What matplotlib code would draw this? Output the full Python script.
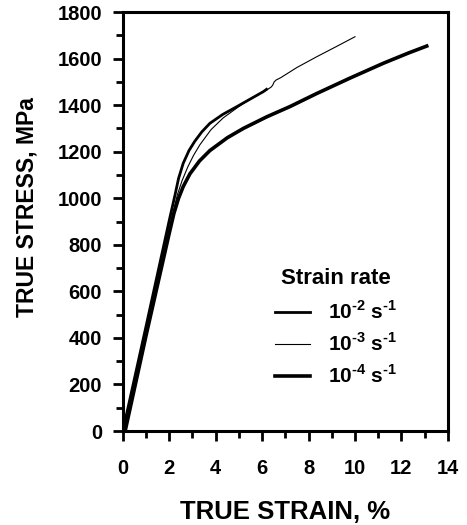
import matplotlib
matplotlib.use("Agg")
import matplotlib.pyplot as plt
from matplotlib.ticker import MultipleLocator

plt.rcParams['font.family'] = ['Liberation Sans', 'DejaVu Sans']
plt.rcParams['font.weight'] = 'bold'
plt.rcParams['mathtext.fontset'] = 'custom'
plt.rcParams['mathtext.rm'] = 'Liberation Sans:bold'
plt.rcParams['mathtext.bf'] = 'Liberation Sans:bold'

# strain rate 10^-2 s^-1
strain_2 = [0, 1.0, 2.0, 2.25, 2.4, 2.6, 2.85, 3.1, 3.4, 3.75, 4.3, 4.9, 5.5, 6.05, 6.19]
stress_2 = [0, 450, 905, 1015, 1085, 1150, 1205, 1245, 1285, 1322, 1360, 1393, 1427, 1458, 1468]

# strain rate 10^-3 s^-1
strain_3 = [0.05, 1.0, 2.0, 2.2, 2.35, 2.55, 2.8, 3.05, 3.32, 3.8, 4.32, 5.19, 5.9, 6.19,
            6.38, 6.45, 6.52, 6.6, 6.8, 7.5, 8.35, 9.2, 10.0]
stress_3 = [0, 430, 870, 955, 1015, 1075, 1135, 1185, 1230, 1295, 1345, 1408, 1450, 1465,
            1477, 1485, 1500, 1508, 1518, 1562, 1608, 1652, 1694]

# strain rate 10^-4 s^-1
strain_4 = [0.1, 1.0, 2.0, 2.2, 2.4, 2.6, 2.89, 3.3, 3.75, 4.5, 5.19, 6.2, 7.2, 8.35, 9.8, 11.22, 12.3, 13.09]
stress_4 = [0, 410, 850, 935, 1000, 1050, 1105, 1160, 1205, 1260, 1300, 1350, 1394, 1450, 1517, 1580, 1624, 1654]

labels = ['10$^{\u20102}$ s$^{\u20101}$', '10$^{\u20103}$ s$^{\u20101}$', '10$^{\u20104}$ s$^{\u20101}$']

fig = plt.figure(figsize=(4.67, 5.25), dpi=100)
ax = fig.add_axes([0.263, 0.179, 0.696, 0.798])

ax.plot(strain_2, stress_2, color='black', lw=2.0, label=labels[0])
ax.plot(strain_3, stress_3, color='black', lw=0.8, label=labels[1])
ax.plot(strain_4, stress_4, color='black', lw=2.6, label=labels[2])

ax.set_xlim(0, 14)
ax.set_ylim(0, 1800)
ax.xaxis.set_major_locator(MultipleLocator(2))
ax.xaxis.set_minor_locator(MultipleLocator(1))
ax.yaxis.set_major_locator(MultipleLocator(200))
ax.yaxis.set_minor_locator(MultipleLocator(100))

for s in ax.spines.values():
    s.set_linewidth(2.2)
ax.tick_params(which='major', direction='out', length=7, width=2, labelsize=14.5)
ax.tick_params(which='minor', direction='out', length=5, width=2)
ax.tick_params(axis='x', which='major', pad=13)
ax.tick_params(axis='y', which='major', pad=8)
for lab in ax.get_xticklabels() + ax.get_yticklabels():
    lab.set_fontweight('bold')

ax.set_xlabel('TRUE STRAIN, %', fontsize=18.5, fontweight='bold', labelpad=16)
ax.set_ylabel('TRUE STRESS, MPa', fontsize=16.5, fontweight='bold')
ax.yaxis.set_label_coords(-0.258, 0.535)

leg = ax.legend(loc='lower left', bbox_to_anchor=(0.41, 0.06), frameon=False,
                title='Strain rate', fontsize=15, handlelength=1.7,
                handletextpad=0.85, labelspacing=0.45)
leg.get_title().set_fontsize(16)
leg.get_title().set_fontweight('bold')
leg._legend_box.sep = 8

fig.savefig('out.png', dpi=100)
